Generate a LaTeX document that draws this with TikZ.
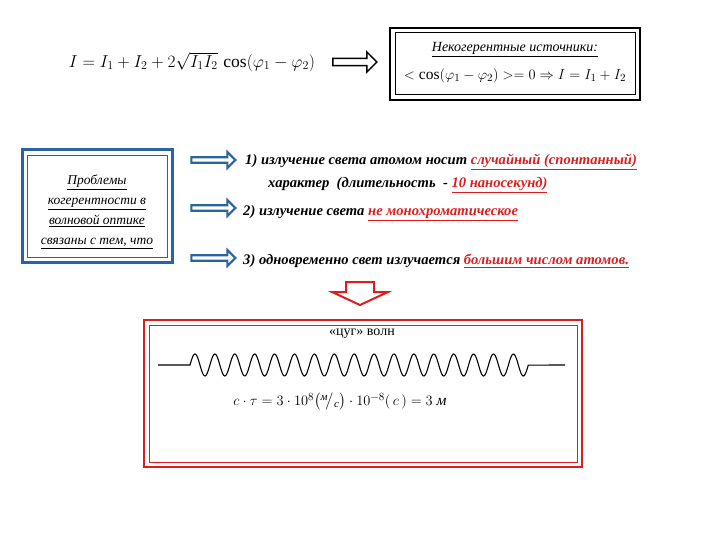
\documentclass[tikz,border=0pt]{standalone}
\usepackage{fontspec}
\setmainfont{Liberation Serif}
\usepackage{amsmath}
\usetikzlibrary{shapes.arrows}
\definecolor{bl}{RGB}{40,100,160}
\definecolor{rd}{RGB}{220,30,30}
\tikzset{
 harr/.style={single arrow,draw=bl,line width=2.2pt,fill=white,minimum height=44pt,minimum width=16pt,single arrow head extend=4pt,inner sep=1pt},
 item/.style={anchor=west,font=\fontsize{14.6}{16}\selectfont\bfseries\itshape,inner sep=0pt},
}
\newcommand{\ru}[1]{\textcolor{rd}{\underline{#1}}}
\begin{document}
\begin{tikzpicture}[x=1pt,y=-1pt]
\useasboundingbox (0,0) rectangle (720,540);
% top
\node (f1) at (192,62) {\fontsize{17.5}{19}\selectfont $I=I_1+I_2+2\sqrt{I_1I_2}\,\cos(\varphi_1-\varphi_2)$};
\node[single arrow,draw=black,line width=1.5pt,fill=white,minimum height=44pt,minimum width=20pt,single arrow head extend=3pt,inner sep=1pt] (a0) at (353,62) {};
\draw[line width=2.5pt] (390,28) rectangle (640,100);
\draw[line width=1pt] (395,33) rectangle (635,95);
\node (nk) at (515,50) {\fontsize{14}{15}\selectfont\itshape\underline{Некогерентные источники:}};
\node (nf) at (515,76) {\fontsize{15.5}{17}\selectfont $<\cos(\varphi_1-\varphi_2)>=0\Rightarrow I=I_1+I_2$};
% left box
\draw[bl,line width=3pt] (22,150) rectangle (172,262);
\draw[bl,line width=0.8pt] (27,155) rectangle (167,257);
\node[align=center,font=\fontsize{13.5}{20}\selectfont\itshape] (pb) at (97,212) {\underline{Проблемы}\\\underline{когерентности в}\\\underline{волновой оптике}\\\underline{связаны с тем, что}};
\node[harr] (b1) at (212,160) {};
\node[harr] (b2) at (212,208) {};
\node[harr] (b3) at (212,258) {};
\node[item] (t1) at (245,162) {1) излучение света атомом носит \ru{случайный (спонтанный)}};
\node[item] (t1b) at (268,185) {характер\ \ (длительность\ \ - \ru{10 наносекунд)}};
\node[item] (t2) at (243,213) {2) излучение света \ru{не монохроматическое}};
\node[item] (t3) at (243,261) {3) одновременно свет излучается \ru{большим числом атомов.}};
% red arrow
\draw[rd,line width=2pt,fill=white,line join=miter] (346,282)--(374,282)--(374,292)--(388,292)--(360,305)--(332,292)--(346,292)--cycle;
% red box
\draw[rd,line width=2.5pt] (144,320) rectangle (582,467);
\draw[rd,line width=0.8pt] (149,325) rectangle (577,462);
\node (cg) at (362,334) {\fontsize{14}{16}\selectfont «цуг» волн};
\draw[line width=1.1pt] (158,365) -- (190,365) -- plot[domain=0:17,samples=400,smooth] ({190+\x*19.9},{365-11*sin(\x*360)}) -- (565,365);
\node (cf) at (340,402) {\fontsize{15.5}{17}\selectfont $c\cdot\tau=3\cdot10^8\bigl({}^{\text{\itshape м}}\!\big/{}_{\text{\itshape c}}\bigr)\cdot10^{-8}(\,c\,)=3\ \text{\itshape м}$};
\end{tikzpicture}
\end{document}
